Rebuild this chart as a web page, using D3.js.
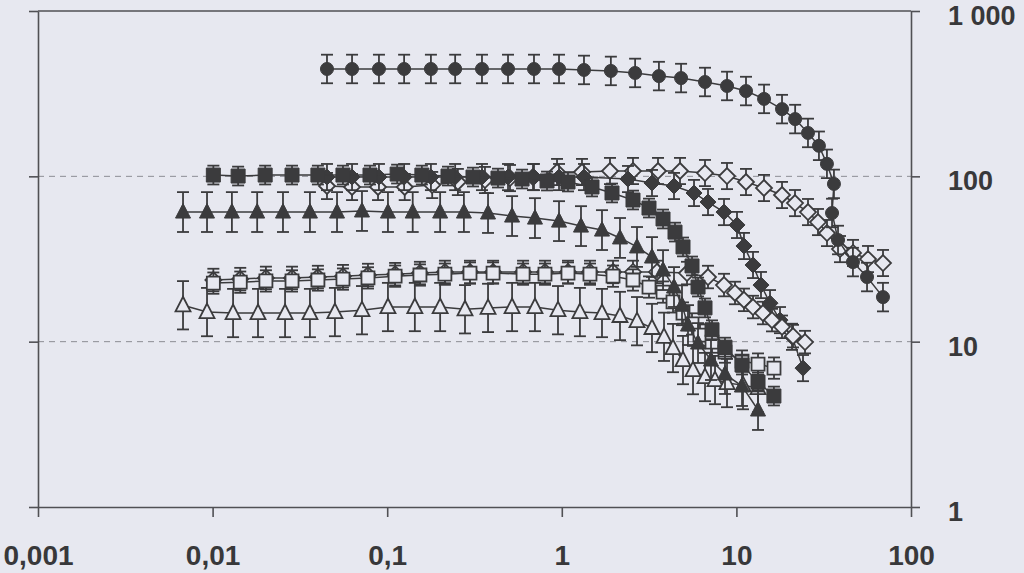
<!DOCTYPE html>
<html><head><meta charset="utf-8">
<script src="https://cdn.jsdelivr.net/npm/d3@7"></script>
<style>body{margin:0;background:#e7e8f0}svg{display:block}</style>
</head><body><svg id="c" width="1024" height="573"></svg>
<script>
// ---------- tick data ----------
const xTicks = [0.001, 0.01, 0.1, 1, 10, 100];
const xTickLabels = ["0,001", "0,01", "0,1", "1", "10", "100"];
const yTicks = [1, 10, 100, 1000];
const yTickLabels = ["1", "10", "100", "1 000"];
const gridValues = [10, 100];

// ---------- series data (x, y) ----------
// filled circles
const circX = [0.0452,0.0629,0.0897,0.125,0.178,0.245,0.349,0.492,0.693,0.964,1.34,1.91,2.63,3.60,4.82,6.61,8.84,11.35,14.4,18.25,21.7,25.7,29.7,33.0,36.2,35.3,38.2,46.5,56.0,69.1];
const circY = [446,446,446,446,446,446,446,446,446,446,440,434,422,404,393,372,352,328,294,255,222,183,153,119,90,60,41.2,30.3,24.6,18.6];
// filled squares
const sqX = [0.0101,0.0140,0.0200,0.0285,0.0401,0.0558,0.0797,0.114,0.158,0.223,0.310,0.431,0.592,0.823,1.085,1.489,1.939,2.557,3.158,3.80,4.45,4.945,5.57,6.03,6.61,7.25,8.60,10.77,13.3,16.4];
const sqY = [101.8,100.4,101.8,101.8,101.8,101.8,101.8,103.2,101.8,100.4,99.0,97.6,96.3,93.7,92.4,86.2,79.3,71.9,64.3,55.2,46.0,37.4,28.7,21.4,16.0,11.8,9.27,7.22,5.70,4.69];
// filled diamonds
const diaX = [0.0452,0.0629,0.0897,0.125,0.178,0.245,0.349,0.492,0.693,0.964,1.34,2.394,3.285,4.392,5.718,6.877,8.492,10.08,11.05,12.45,13.83,15.58,17.77,20.82,24.07];
const diaY = [99,99,99,99,99,99,99,99,99,99,99,96.3,91.1,87.4,79.3,69.9,60.8,50.8,37.9,29.1,22.0,17.1,13.5,10.7,6.92];
// open diamonds (upper)
const odAX = [0.0452,0.0629,0.0886,0.126,0.181,0.254,0.363,0.505,0.684,0.939,1.305,1.888,2.557,3.556,4.753,6.61,8.835,11.35,14.39,18.25,21.66,25.71,29.33,33.03,39.21,46.55,56.73,69.13];
const odAY = [87.4,86.2,86.2,86.2,88.6,92.4,95.0,97.6,99.0,106.2,106.2,107.7,107.7,107.7,107.7,104.7,100.4,92.4,85.0,77.1,68.9,60.8,52.9,45.4,36.3,34.4,31.6,29.9];
// open diamonds (lower)
const odBX = [0.0101,0.0144,0.0202,0.0285,0.0401,0.0558,0.0776,0.111,0.154,0.214,0.298,0.404,0.600,0.801,1.085,1.45,1.965,2.557,3.51,5.213,6.877,8.492,9.82,11.05,12.45,14.2,15.99,18.25,21.1,24.72];
const odBY = [23.6,23.9,24.3,24.3,24.6,24.9,25.3,25.6,26.0,26.4,26.4,26.4,26.4,26.4,26.4,26.4,26.4,26.4,26.4,26.0,24.6,22.0,19.7,17.9,16.2,14.9,13.5,12.3,10.8,9.94];
// open squares
const osqX = [0.0101,0.0144,0.0202,0.0285,0.0401,0.0558,0.0776,0.111,0.154,0.214,0.298,0.404,0.600,0.801,1.085,1.45,1.965,2.557,3.158,3.80,4.335,4.945,5.568,6.187,7.25,8.604,10.77,13.3,16.42];
const osqY = [22.6,22.9,23.3,23.3,23.6,23.9,24.3,24.9,25.3,25.6,26.0,26.0,25.6,25.6,26.0,25.6,24.9,23.6,21.4,19.95,17.4,14.9,12.8,10.96,9.94,8.65,7.63,7.32,6.92];
// filled triangles
const triX = [0.00677,0.00929,0.0129,0.0180,0.0253,0.0361,0.0516,0.0717,0.101,0.140,0.201,0.275,0.378,0.519,0.702,0.964,1.288,1.699,2.154,2.696,3.285,3.80,4.392,4.88,5.282,6.028,7.153,8.604,10.77,13.3];
const triY = [60.8,60.8,60.8,60.8,60.8,60.8,60.8,61.7,60.8,60.8,60.8,60.8,60.0,57.5,55.9,53.6,50.0,47.3,42.4,37.4,32.5,27.1,21.4,16.6,12.6,9.81,7.74,6.37,5.39,3.86];
// open triangles
const otriX = [0.00677,0.00929,0.0131,0.0182,0.0260,0.0361,0.0502,0.0717,0.101,0.144,0.201,0.279,0.378,0.519,0.702,0.951,1.27,1.699,2.154,2.696,3.285,3.85,4.335,4.945,5.643,6.61,7.543,8.835,10.91,13.3];
const otriY = [16.6,15.1,14.9,14.9,14.9,14.9,15.1,15.5,16.2,16.2,16.2,15.7,16.0,16.2,16.2,15.5,15.1,14.9,14.3,13.3,12.1,10.7,9.15,7.74,6.73,6.11,5.86,5.62,5.46,5.24];

// relative error (bar spans value*(1+e) .. value/(1+e))
const seriesErr = {circ:0.22, sq:0.14, dia:0.2, odA:0.2, odB:0.17, osq:0.16, tri:0.32, otri:0.4};

// ---------- drawing ----------
const W = 1024, H = 573;
const L = 38, R = 911, T = 11, B = 507;
const INK = "#3b3b3d", BG = "#e7e8f0";
const svg = d3.select("#c");
svg.append("rect").attr("width", W).attr("height", H).attr("fill", BG);

const x = d3.scaleLog().domain([0.001, 100]).range([L, R]);
const y = d3.scaleLog().domain([1, 1000]).range([B, T]);

// grid
svg.append("g").selectAll("line").data(gridValues).join("line")
  .attr("x1", L).attr("x2", R).attr("y1", d => y(d)).attr("y2", d => y(d))
  .attr("stroke", "#8c8d94").attr("stroke-width", 1).attr("stroke-dasharray", "6,5");

// shapes
const shapes = {
  circle: "M6.5,0A6.5,6.5 0 1,1 -6.5,0A6.5,6.5 0 1,1 6.5,0Z",
  square: "M-7,-7H7V7H-7Z",
  osquare: "M-6.5,-6.5H6.5V6.5H-6.5Z",
  diamond: "M0,-8L8,0L0,8L-8,0Z",
  triangle: "M0,-8.5L7.5,6L-7.5,6Z"
};

const series = [
  {xs: odAX, ys: odAY, e: seriesErr.odA, shape: "diamond", filled: false},
  {xs: diaX, ys: diaY, e: seriesErr.dia, shape: "diamond", filled: true},
  {xs: odBX, ys: odBY, e: seriesErr.odB, shape: "diamond", filled: false},
  {xs: otriX, ys: otriY, e: seriesErr.otri, shape: "triangle", filled: false},
  {xs: osqX, ys: osqY, e: seriesErr.osq, shape: "osquare", filled: false},
  {xs: triX, ys: triY, e: seriesErr.tri, shape: "triangle", filled: true},
  {xs: sqX, ys: sqY, e: seriesErr.sq, shape: "square", filled: true},
  {xs: circX, ys: circY, e: seriesErr.circ, shape: "circle", filled: true}
];

const line = d3.line().x(d => x(d[0])).y(d => y(d[1]));

series.forEach(s => {
  const pts = s.xs.map((v, i) => [v, s.ys[i]]);
  const g = svg.append("g");
  g.append("path").attr("d", line(pts)).attr("fill", "none")
    .attr("stroke", INK).attr("stroke-width", 1.5);
  const eb = g.append("g").attr("stroke", INK).attr("stroke-width", 1.8);
  pts.forEach(p => {
    const cx = x(p[0]), y1 = y(p[1] * (1 + s.e)), y2 = y(p[1] / (1 + s.e));
    eb.append("line").attr("x1", cx).attr("x2", cx).attr("y1", y1).attr("y2", y2);
    eb.append("line").attr("x1", cx - 6).attr("x2", cx + 6).attr("y1", y1).attr("y2", y1);
    eb.append("line").attr("x1", cx - 6).attr("x2", cx + 6).attr("y1", y2).attr("y2", y2);
  });
  g.append("g").selectAll("path").data(pts).join("path")
    .attr("d", shapes[s.shape])
    .attr("transform", d => `translate(${x(d[0])},${y(d[1])})`)
    .attr("fill", s.filled ? INK : BG)
    .attr("stroke", INK).attr("stroke-width", s.filled ? 1 : 1.8);
});

// axes
const font = "'Liberation Sans', Arial, sans-serif";
const xAxis = svg.append("g").attr("transform", `translate(0,${B})`)
  .call(d3.axisBottom(x).tickValues(xTicks).tickFormat((d, i) => xTickLabels[i])
    .tickSize(10).tickSizeOuter(0).tickPadding(28));
const yRight = svg.append("g").attr("transform", `translate(${R},0)`)
  .call(d3.axisRight(y).tickValues(yTicks).tickFormat((d, i) => yTickLabels[i])
    .tickSize(9).tickSizeOuter(0).tickPadding(28));
const yLeft = svg.append("g").attr("transform", `translate(${L},0)`)
  .call(d3.axisLeft(y).tickValues(yTicks).tickFormat("").tickSize(9).tickSizeOuter(0));
[xAxis, yRight, yLeft].forEach(a => {
  a.select(".domain").attr("stroke", "#505054").attr("stroke-width", 1.6);
  a.selectAll(".tick line").attr("stroke", "#505054").attr("stroke-width", 1.6);
  a.selectAll("text").attr("fill", "#38383a").attr("font-family", font)
    .attr("font-size", 28).attr("font-weight", "bold");
});
yRight.selectAll("text").attr("font-size", 27).attr("dy", "0.5em");
// top border
svg.append("line").attr("x1", L).attr("x2", R).attr("y1", T).attr("y2", T)
  .attr("stroke", "#505054").attr("stroke-width", 1.6);
</script></body></html>
